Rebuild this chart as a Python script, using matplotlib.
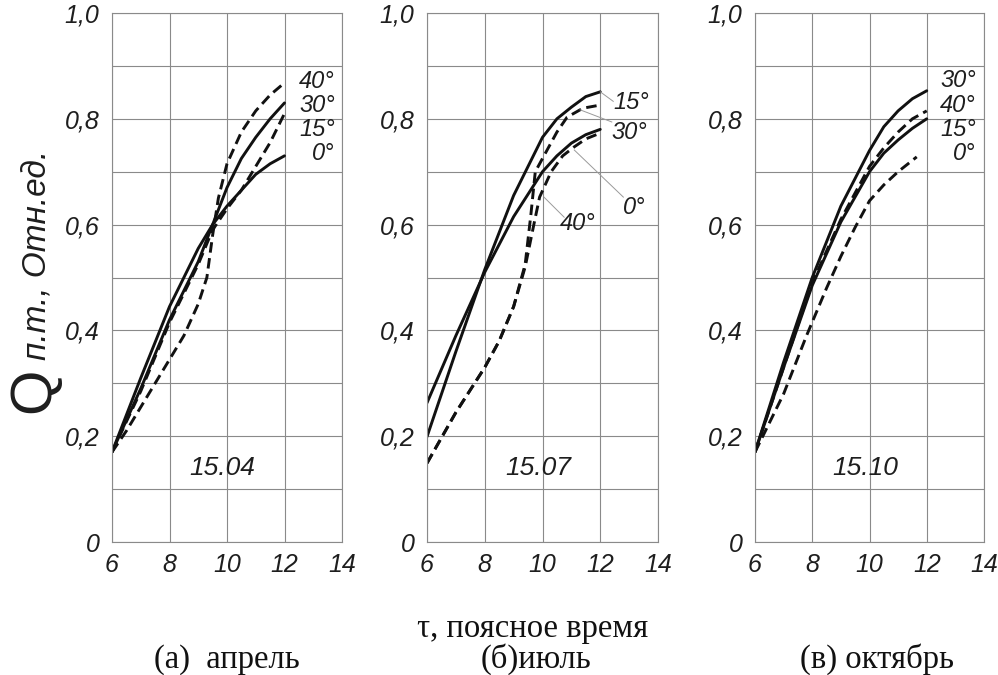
import matplotlib
matplotlib.use("Agg")
import matplotlib.pyplot as plt

# --- data -------------------------------------------------------------------
x_ticks = [6, 8, 10, 12, 14]
y_ticks = [0, 0.2, 0.4, 0.6, 0.8, 1.0]
y_tick_labels = ["0", "0,2", "0,4", "0,6", "0,8", "1,0"]

# (а) апрель, 15.04
apr_x = [6, 7, 8, 9, 9.5, 10, 10.5, 11, 11.5, 12]
apr_0 = [0.17, 0.31, 0.445, 0.555, 0.60, 0.635, 0.665, 0.695, 0.715, 0.73]
apr_30 = [0.17, 0.29, 0.42, 0.53, 0.60, 0.67, 0.725, 0.765, 0.80, 0.83]
apr_15 = [0.17, 0.285, 0.415, 0.525, 0.59, 0.63, 0.665, 0.71, 0.755, 0.81]
apr_40_x = [6, 6.5, 7, 7.5, 8, 8.5, 9, 9.3, 9.5, 9.7, 10, 10.5, 11, 11.5, 12]
apr_40 = [0.17, 0.21, 0.255, 0.30, 0.345, 0.39, 0.45, 0.50, 0.58, 0.65, 0.715,
          0.775, 0.815, 0.845, 0.868]

# (б) июль, 15.07
jul_x = [6, 7, 8, 9, 10, 10.5, 11, 11.5, 12]
jul_15 = [0.199, 0.36, 0.515, 0.655, 0.765, 0.80, 0.822, 0.842, 0.851]
jul_0 = [0.263, 0.39, 0.51, 0.615, 0.70, 0.73, 0.754, 0.77, 0.78]
jul_30_x = [6, 7, 8, 8.5, 9, 9.4, 9.6, 9.75, 10.05, 10.5, 10.85, 11.4, 12]
jul_30 = [0.149, 0.245, 0.33, 0.38, 0.445, 0.525, 0.62, 0.70, 0.73, 0.775,
          0.803, 0.82, 0.826]
jul_40_x = [6, 7, 8, 8.5, 9, 9.4, 9.7, 9.9, 10.3, 10.7, 11.1, 11.5, 12]
jul_40 = [0.149, 0.245, 0.33, 0.38, 0.445, 0.52, 0.60, 0.652, 0.70, 0.73,
          0.747, 0.762, 0.773]

# (в) октябрь, 15.10
oct_x = [6, 7, 8, 9, 10, 10.5, 11, 11.5, 12]
oct_30 = [0.17, 0.34, 0.50, 0.635, 0.74, 0.785, 0.815, 0.838, 0.853]
oct_40 = [0.17, 0.33, 0.49, 0.61, 0.71, 0.745, 0.775, 0.80, 0.815]
oct_15 = [0.17, 0.33, 0.485, 0.605, 0.70, 0.735, 0.76, 0.782, 0.80]
oct_0_x = [6, 7, 7.8, 8.5, 9, 9.5, 10, 10.5, 11, 11.65]
oct_0 = [0.17, 0.28, 0.39, 0.48, 0.54, 0.595, 0.645, 0.675, 0.70, 0.728]

dates = ["15.04", "15.07", "15.10"]
captions = ["(а)  апрель", "(б)июль", "(в) октябрь"]

SANS = "Liberation Sans"
SERIF = "Liberation Serif"
DASH = (0, (3.6, 1.9))
W, H = 998, 675


def px_rect(left, right, top=13, bottom=542):
    return [left / W, 1 - bottom / H, (right - left) / W, (bottom - top) / H]


def setup(ax):
    ax.set_xlim(6, 14)
    ax.set_ylim(0, 1)
    ax.set_xticks(x_ticks)
    ax.set_xticklabels([str(t) for t in x_ticks])
    ax.set_yticks(y_ticks)
    ax.set_yticklabels(y_tick_labels)
    ax.set_yticks([0.1, 0.3, 0.5, 0.7, 0.9], minor=True)
    ax.grid(True, which="both", color="#8a8a8a", lw=0.8)
    ax.tick_params(which="both", length=0)
    ax.tick_params(axis="x", pad=8)
    ax.tick_params(axis="y", pad=9)
    for lab in ax.get_xticklabels() + ax.get_yticklabels():
        lab.set_fontfamily(SANS)
        lab.set_fontstyle("italic")
        lab.set_fontsize(18)
        lab.set_color("#1e1e1e")
    for sp in ax.spines.values():
        sp.set_color("#8a8a8a")
        sp.set_linewidth(0.8)
    ax.set_axisbelow(True)


def curve(ax, x, y, dashed=False):
    ax.plot(x, y, color="#111111", lw=2.1,
            linestyle=DASH if dashed else "-", solid_capstyle="round")


def label(ax, x, y, s, ha="right"):
    ax.text(x, y, s, ha=ha, va="center", fontsize=17, style="italic",
            family=SANS, color="#1e1e1e")


def leader(ax, x0, y0, x1, y1):
    ax.plot([x0, x1], [y0, y1], color="#9a9a9a", lw=0.7)


fig = plt.figure(figsize=(W / 100, H / 100), dpi=100)
ax1 = fig.add_axes(px_rect(112, 342))
ax2 = fig.add_axes(px_rect(427, 658))
ax3 = fig.add_axes(px_rect(755, 984))
for ax in (ax1, ax2, ax3):
    setup(ax)

# April
curve(ax1, apr_x, apr_0)
curve(ax1, apr_x, apr_30)
curve(ax1, apr_x, apr_15, dashed=True)
curve(ax1, apr_40_x, apr_40, dashed=True)
label(ax1, 13.75, 0.87, "40°")
label(ax1, 13.75, 0.826, "30°")
label(ax1, 13.75, 0.779, "15°")
label(ax1, 13.75, 0.735, "0°")

# July
curve(ax2, jul_x, jul_15)
curve(ax2, jul_x, jul_0)
curve(ax2, jul_30_x, jul_30, dashed=True)
curve(ax2, jul_40_x, jul_40, dashed=True)
leader(ax2, 12.0, 0.851, 12.45, 0.833)
leader(ax2, 11.3, 0.817, 12.4, 0.794)
leader(ax2, 11.1, 0.741, 12.8, 0.652)
leader(ax2, 10.05, 0.652, 10.75, 0.614)
label(ax2, 12.45, 0.83, "15°", ha="left")
label(ax2, 12.4, 0.775, "30°", ha="left")
label(ax2, 12.8, 0.633, "0°", ha="left")
label(ax2, 10.6, 0.603, "40°", ha="left")

# October
curve(ax3, oct_x, oct_30)
curve(ax3, oct_x, oct_15)
curve(ax3, oct_x, oct_40, dashed=True)
curve(ax3, oct_0_x, oct_0, dashed=True)
label(ax3, 13.72, 0.873, "30°")
label(ax3, 13.72, 0.826, "40°")
label(ax3, 13.72, 0.779, "15°")
label(ax3, 13.72, 0.735, "0°")

for ax, d in zip((ax1, ax2, ax3), dates):
    ax.text(9.85, 0.14, d, ha="center", va="center", fontsize=19,
            style="italic", family=SANS, color="#1e1e1e")

# y label: big Q + rest
fig.text(49 / W, 1 - 413 / H, "Q", rotation=90, rotation_mode="anchor",
         ha="left", va="baseline", fontsize=42, family=SANS, color="#1e1e1e")
fig.text(46 / W, 1 - 360 / H, "п.т., Отн.ед.", rotation=90,
         rotation_mode="anchor", ha="left", va="baseline", fontsize=24,
         style="italic", family=SANS, color="#1e1e1e")

# bottom captions
fig.text(533 / W, 1 - 637 / H, "τ, поясное время", ha="center", va="baseline",
         fontsize=23.5, family=SERIF, color="#111111")
for cx, cap in zip([227, 536, 877], captions):
    fig.text(cx / W, 1 - 668 / H, cap, ha="center", va="baseline",
             fontsize=23.5, family=SERIF, color="#111111")

fig.savefig("out.png", dpi=100, facecolor="white")
